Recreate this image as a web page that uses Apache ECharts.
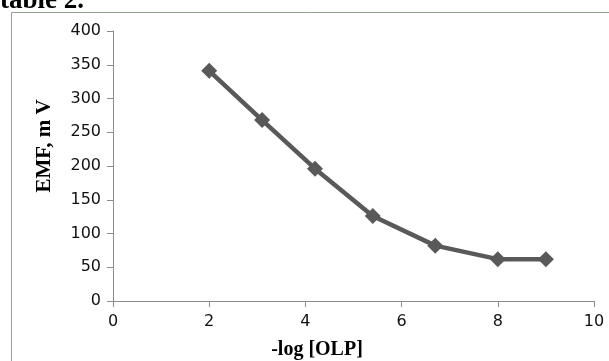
<!DOCTYPE html>
<html>
<head>
<meta charset="utf-8">
<script src="https://cdn.jsdelivr.net/npm/echarts@6/dist/echarts.min.js"></script>
<style>
html,body{margin:0;padding:0;background:#fff;}
#c{width:609px;height:361px;}
</style>
</head>
<body>
<div id="c"></div>
<script>
const xValues = [2, 3.1, 4.2, 5.4, 6.7, 8, 9];
const emfValues = [341, 268, 196, 126, 82, 62, 62];
const xTicks = [0, 2, 4, 6, 8, 10];
const yTicks = [0, 50, 100, 150, 200, 250, 300, 350, 400];
const xAxisTitle = '-log [OLP]';
const yAxisTitle = 'EMF, m V';
const captionText = 'table 2.';

const points = xValues.map((x, i) => [x, emfValues[i]]);
const chart = echarts.init(document.getElementById('c'), null, {renderer: 'canvas'});
const axisLine = {show: true, lineStyle: {color: '#8c8c8c', width: 1}};
chart.setOption({
  animation: false,
  backgroundColor: '#fff',
  grid: {left: 113, right: 15, top: 31, bottom: 60, containLabel: false},
  xAxis: {
    type: 'value', min: xTicks[0], max: xTicks[xTicks.length - 1], interval: 2,
    axisLine: axisLine,
    axisTick: {show: true, length: 6, lineStyle: {color: '#8c8c8c'}},
    splitLine: {show: false},
    axisLabel: {color: '#111', fontFamily: 'DejaVu Sans', fontSize: 16, margin: 13}
  },
  yAxis: {
    type: 'value', min: yTicks[0], max: yTicks[yTicks.length - 1], interval: 50,
    axisLine: axisLine,
    axisTick: {show: true, length: 6, lineStyle: {color: '#8c8c8c'}},
    splitLine: {show: false},
    axisLabel: {color: '#111', fontFamily: 'DejaVu Sans', fontSize: 16, margin: 12}
  },
  series: [{
    type: 'line',
    data: points,
    symbol: 'diamond',
    symbolSize: 16,
    lineStyle: {color: '#595959', width: 4.5},
    itemStyle: {color: '#595959'}
  }],
  graphic: [
    {type: 'rect', shape: {x: 11.5, y: 12.5, width: 620, height: 400}, style: {fill: 'none', stroke: '#93a38c', lineWidth: 1}, silent: true},
    {type: 'text', left: 0, top: -12, style: {text: captionText, font: 'bold 27px "Liberation Serif"', fill: '#000'}},
    {type: 'text', x: 317, y: 350, style: {text: xAxisTitle, font: 'bold 20px "Liberation Serif"', fill: '#000', align: 'center', verticalAlign: 'middle'}},
    {type: 'text', x: 45, y: 146, rotation: Math.PI / 2, style: {text: yAxisTitle, font: 'bold 21px "Liberation Serif"', fill: '#000', align: 'center', verticalAlign: 'middle'}}
  ]
});
</script>
</body>
</html>
